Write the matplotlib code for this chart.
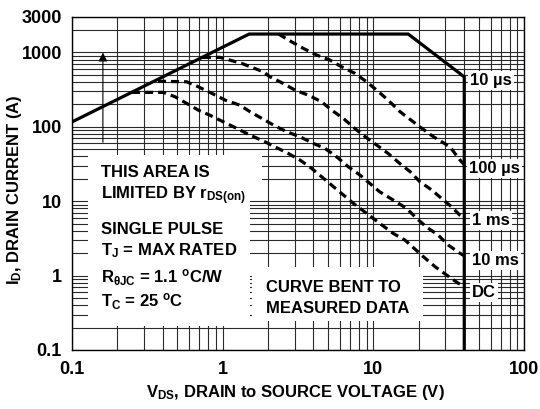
import matplotlib
matplotlib.use('Agg')
import matplotlib.pyplot as plt
from matplotlib.ticker import LogLocator, NullFormatter
from matplotlib.patches import Rectangle

plt.rcParams['font.family'] = ['Liberation Sans', 'DejaVu Sans']
plt.rcParams['font.weight'] = 'bold'
plt.rcParams['mathtext.fontset'] = 'custom'
plt.rcParams['mathtext.rm'] = 'Liberation Sans:bold'
plt.rcParams['mathtext.it'] = 'Liberation Sans:bold'
plt.rcParams['mathtext.bf'] = 'Liberation Sans:bold'
plt.rcParams['mathtext.sf'] = 'Liberation Sans:bold'
plt.rcParams['lines.scale_dashes'] = False

# safe operating area boundary (10 us)
soa_v = [0.1, 1.5, 17, 40, 40]
soa_i = [116, 1770, 1770, 470, 0.1]

# 100 us
c100us_v = [2.35, 2.87, 3.43, 4.21, 5.15, 6.15, 7.54, 9.0, 10.5, 12.5, 15.0, 20.3, 24.9, 32.1, 37.4, 40]
c100us_i = [1770, 1390, 1135, 923, 791, 643, 524, 404, 312, 229, 160, 100, 74, 54, 36, 31]

# 1 ms
c1ms_v = [0.74, 0.96, 1.34, 1.86, 2.06, 2.52, 3.02, 3.70, 4.54, 5.28, 6.31, 7.54, 8.79, 10.5, 12.5,
          15.0, 17.5, 20.3, 24.3, 28.3, 33.0, 37.4, 40]
c1ms_i = [860, 860, 713, 551, 471, 384, 312, 267, 217, 168, 130, 95, 74, 57, 44,
          32, 25, 18.3, 14.2, 10.9, 8.4, 6.5, 6.0]

# 10 ms
c10ms_v = [0.373, 0.578, 0.69, 0.85, 1.04, 1.30, 1.52, 1.91, 2.17, 2.66, 3.26, 3.99, 4.77, 5.70,
           6.81, 8.14, 11.0, 13.5, 16.6, 19.3, 22.5, 26.9, 31.3, 37.4, 40]
c10ms_i = [410, 404, 346, 282, 229, 196, 160, 123, 106, 86, 73.6, 60, 51.4, 39.6,
           29.1, 22.5, 13.4, 10.4, 8.0, 5.9, 4.5, 3.5, 2.58, 2.0, 1.85]

# DC
cdc_v = [0.251, 0.404, 0.484, 0.578, 0.69, 0.82, 1.01, 1.24, 1.52, 1.91, 2.22, 2.72, 3.26, 3.89,
         4.54, 7.35, 11.0, 13.5, 16.2, 21.4, 25.6, 30.5, 36.5, 40]
cdc_i = [291, 291, 254, 207, 168, 144, 117, 95.5, 77.6, 63, 54, 44, 35.8, 27.7,
         21.3, 9.4, 5.05, 3.7, 3.0, 1.8, 1.32, 1.02, 0.79, 0.72]

curve_labels = ['10 \u00b5s', '100 \u00b5s', '1 ms', '10 ms', 'DC']
xticks = [0.1, 1, 10, 100]
xlabels = ['0.1', '1', '10', '100']
yticks = [0.1, 1, 10, 100, 1000, 3000]
ylabels = ['0.1', '1', '10', '100', '1000', '3000']

fig = plt.figure(figsize=(5.4, 4.09), dpi=100)
ax = fig.add_axes([71.7 / 540, 1 - 350 / 409, 452.6 / 540, 333 / 409])
ax.set_xscale('log')
ax.set_yscale('log')
ax.set_xlim(0.1, 100)
ax.set_ylim(0.1, 3000)


# reference pixel -> axes fraction
def fx(px):
    return (px - 71.7) / 452.6


def fy(py):
    return (350 - py) / 333


ax.xaxis.set_minor_locator(LogLocator(base=10, subs=range(2, 10)))
ax.yaxis.set_minor_locator(LogLocator(base=10, subs=range(2, 10)))
ax.xaxis.set_minor_formatter(NullFormatter())
ax.yaxis.set_minor_formatter(NullFormatter())
ax.set_xticks(xticks)
ax.set_xticklabels(xlabels)
ax.set_yticks(yticks)
ax.set_yticklabels(ylabels)
ax.tick_params(which='both', length=0)
ax.tick_params(axis='x', pad=8, labelsize=13)
ax.tick_params(axis='y', pad=7, labelsize=13)
ax.grid(which='both', color='#2a2a2a', lw=0.8, zorder=0)
ax.set_axisbelow(True)
for s in ax.spines.values():
    s.set_linewidth(1.0)

# white areas behind the notes
for (x0, y0, x1, y1) in [(88, 155, 250, 326), (88, 155, 262, 190), (252, 267, 423, 321)]:
    ax.add_patch(Rectangle((fx(x0), fy(y1)), fx(x1) - fx(x0), fy(y0) - fy(y1),
                           transform=ax.transAxes, facecolor='white', edgecolor='none', zorder=1))

ax.plot(soa_v, soa_i, color='black', lw=2.3, zorder=3, solid_joinstyle='miter')
for v, i in [(c100us_v, c100us_i), (c1ms_v, c1ms_i), (c10ms_v, c10ms_i), (cdc_v, cdc_i)]:
    ax.plot(v, i, color='black', lw=2.3, dashes=[5.8, 3.6], zorder=3)

ax.annotate('', xy=(0.161, 1000), xytext=(0.161, 62),
            arrowprops=dict(arrowstyle='-|>', lw=0.8, color='black', mutation_scale=13, shrinkA=0, shrinkB=0),
            zorder=3)

fs = 12
label_pos = [(470, 85), (469, 173), (472, 225), (472, 265), (472, 297)]
for txt, (px, py) in zip(curve_labels, label_pos):
    ax.text(fx(px), fy(py), txt, transform=ax.transAxes, fontsize=fs, va='baseline', ha='left',
            zorder=4, bbox=dict(facecolor='white', edgecolor='none', pad=1.5))

notes = [
    ('THIS AREA IS', 101, 177),
    ('LIMITED BY r$_{\\mathrm{DS(on)}}$', 101, 199),
    ('SINGLE PULSE', 101, 234),
    ('T$_{\\mathrm{J}}$ = MAX RATED', 101, 255),
    ('R$_{\\mathrm{\u03b8JC}}$ = 1.1 $^{\\mathrm{o}}$C/W', 101, 283),
    ('T$_{\\mathrm{C}}$ = 25 $^{\\mathrm{o}}$C', 101, 307),
    ('CURVE BENT TO', 266, 292),
    ('MEASURED DATA', 266, 312.7),
]
for txt, px, py in notes:
    ax.text(fx(px), fy(py), txt, transform=ax.transAxes, fontsize=fs, va='baseline', ha='left', zorder=4)

fig.text(295 / 540, 1 - 393 / 409, 'V$_{\\mathrm{DS}}$, DRAIN to SOURCE VOLTAGE (V)',
         fontsize=12, ha='center', va='center')
fig.text(15 / 540, 1 - 190 / 409, 'I$_{\\mathrm{D}}$, DRAIN CURRENT (A)',
         fontsize=12, ha='center', va='center', rotation=90)

fig.savefig('out.png', dpi=100)
